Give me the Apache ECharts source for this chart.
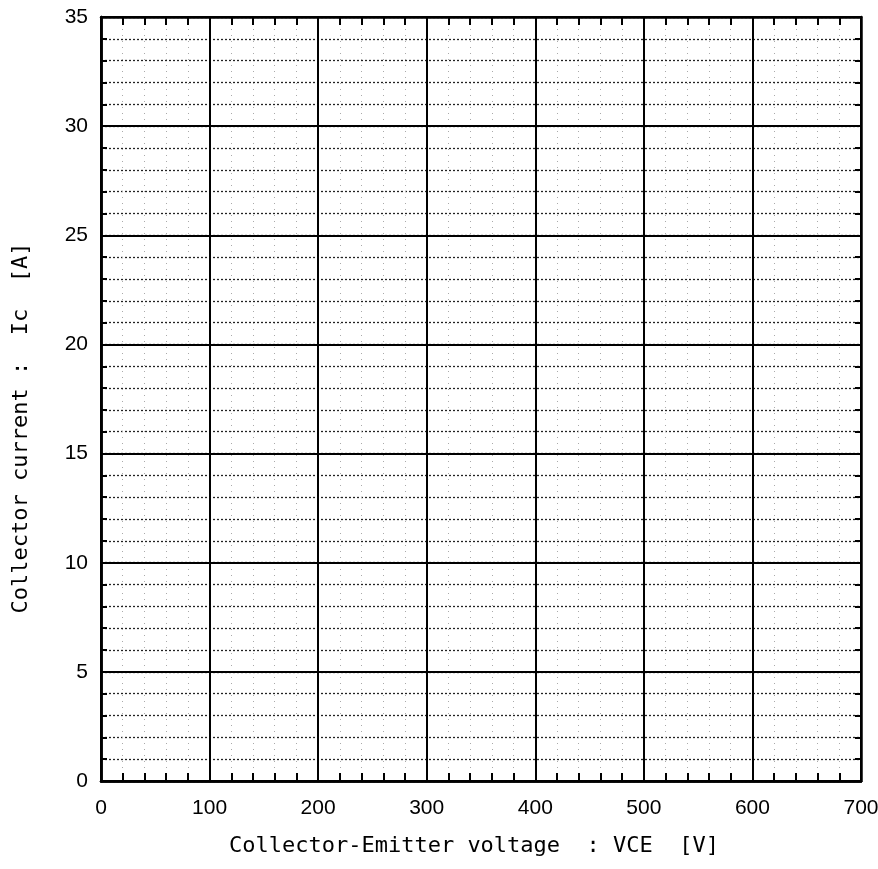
<!DOCTYPE html>
<html>
<head>
<meta charset="utf-8">
<script src="https://cdn.jsdelivr.net/npm/echarts@6/dist/echarts.min.js"></script>
<style>
html,body{margin:0;padding:0;background:#fff;}
#chart{width:878px;height:869px;}
</style>
</head>
<body>
<div id="chart"></div>
<script>
// Axis tick labels (empty characteristic chart: no plotted curves)
var xTickLabels = [0, 100, 200, 300, 400, 500, 600, 700];
var yTickLabels = [0, 5, 10, 15, 20, 25, 30, 35];
var xMinorStep = 20;   // V per minor division
var yMinorStep = 1;    // A per minor division
var xTitle = 'Collector-Emitter voltage  : VCE  [V]';
var yTitle = 'Collector current :  Ic  [A]';
var seriesData = [];

var xMin = xTickLabels[0], xMax = xTickLabels[xTickLabels.length - 1];
var xInt = xTickLabels[1] - xTickLabels[0];
var yMin = yTickLabels[0], yMax = yTickLabels[yTickLabels.length - 1];
var yInt = yTickLabels[1] - yTickLabels[0];

var labelFont = { color: '#000', fontFamily: 'Liberation Sans, Arial, sans-serif', fontSize: 21 };
var titleFont = { color: '#000', fontFamily: 'DejaVu Sans Mono, monospace', fontSize: 22 };
var tickStyle = { color: '#000', width: 2 };

function helperX(pos, showGrid) {
  return {
    type: 'value', position: pos, min: xMin, max: xMax, interval: xMinorStep, z: 0,
    axisLine: { show: true, onZero: false, lineStyle: { color: '#000', width: 2.5 } },
    axisTick: { show: true, inside: true, length: 8, lineStyle: tickStyle },
    axisLabel: { show: false },
    splitLine: { show: showGrid, lineStyle: { color: '#aaa', width: 1, type: [1, 5] } }
  };
}
function helperY(pos, showGrid) {
  return {
    type: 'value', position: pos, min: yMin, max: yMax, interval: yMinorStep, z: 0,
    axisLine: { show: true, onZero: false, lineStyle: { color: '#000', width: 2.5 } },
    axisTick: { show: true, inside: true, length: 6, lineStyle: tickStyle },
    axisLabel: { show: false },
    splitLine: { show: showGrid, lineStyle: { color: '#222', width: 1.3, type: [2, 2] } }
  };
}

var chart = echarts.init(document.getElementById('chart'), null, { renderer: 'canvas' });
chart.setOption({
  backgroundColor: '#fff',
  animation: false,
  grid: { left: 101, right: 17, top: 17, bottom: 88, show: false, containLabel: false, outerBoundsMode: 'none' },
  xAxis: [
    {
      type: 'value', position: 'bottom', min: xMin, max: xMax, interval: xInt, z: 2,
      name: xTitle, nameLocation: 'middle', nameGap: 54,
      nameTextStyle: Object.assign({ padding: [0, 14, 0, 0] }, titleFont),
      axisLine: { show: true, onZero: false, lineStyle: { color: '#000', width: 2.5 } },
      axisTick: { show: false },
      axisLabel: Object.assign({ margin: 17 }, labelFont),
      splitLine: { show: true, lineStyle: { color: '#000', width: 2 } }
    },
    helperX('bottom', true),
    helperX('top', false)
  ],
  yAxis: [
    {
      type: 'value', position: 'left', min: yMin, max: yMax, interval: yInt, z: 2,
      name: yTitle, nameLocation: 'middle', nameGap: 69, nameRotate: 90,
      nameTextStyle: Object.assign({ padding: [0, 58, 0, 0] }, titleFont),
      axisLine: { show: true, onZero: false, lineStyle: { color: '#000', width: 2.5 } },
      axisTick: { show: false },
      axisLabel: Object.assign({ margin: 13 }, labelFont),
      splitLine: { show: true, lineStyle: { color: '#000', width: 2 } }
    },
    helperY('left', true),
    helperY('right', false)
  ],
  series: [
    { type: 'line', xAxisIndex: 0, yAxisIndex: 0, data: seriesData, showSymbol: false }
  ]
});
</script>
</body>
</html>
